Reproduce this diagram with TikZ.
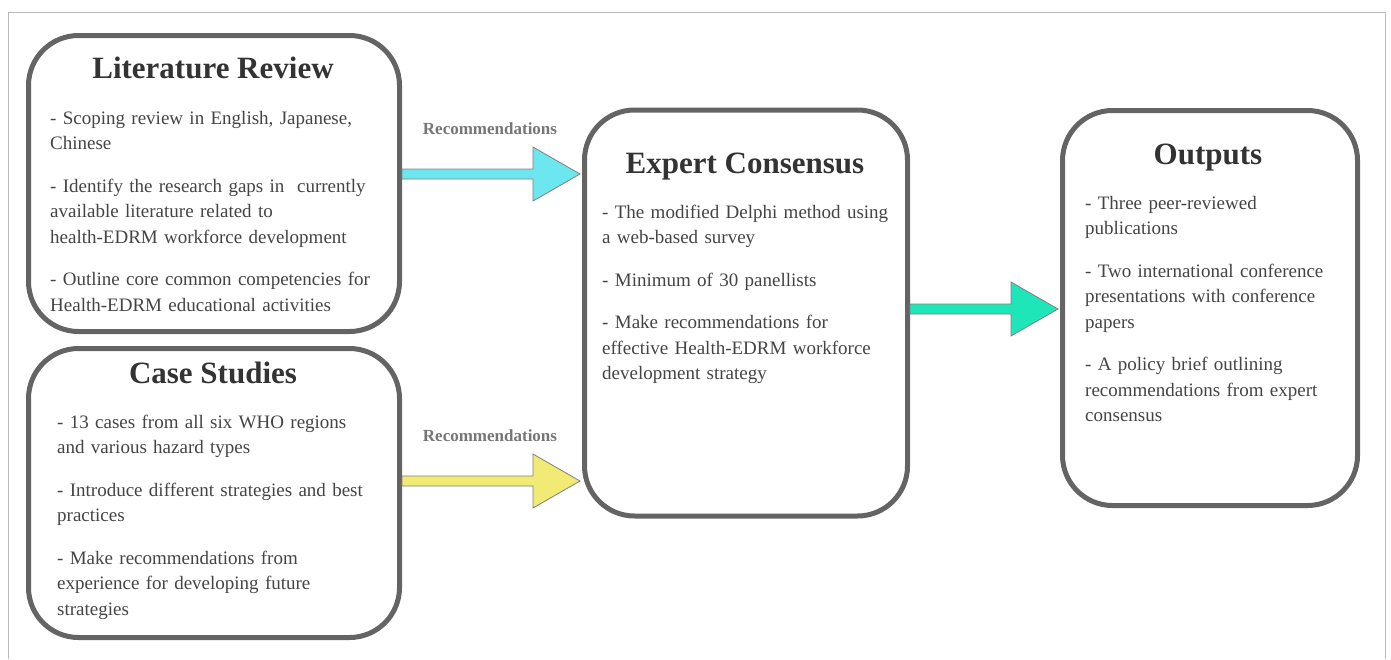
\documentclass[tikz,border=0pt]{standalone}
\usepackage{fontspec}
\setmainfont{Liberation Serif}
\usetikzlibrary{calc}

\definecolor{boxgray}{HTML}{646464}
\definecolor{textgray}{HTML}{444444}
\definecolor{titlegray}{HTML}{333333}
\definecolor{labelgray}{HTML}{767676}
\definecolor{framegray}{HTML}{BBBBBB}
\definecolor{cyanfill}{HTML}{6CE6EF}
\definecolor{yellowfill}{HTML}{F1EA75}
\definecolor{greenfill}{HTML}{1FE6B9}

\tikzset{
  stagebox/.style={draw=boxgray, line width=5pt, rounded corners=50pt, inner sep=0pt},
  stagetitle/.style={anchor=base, inner sep=0pt, text=titlegray,
    font=\fontsize{31}{36}\selectfont\bfseries},
  stagebody/.style={anchor=base west, inner sep=0pt, text width=#1, align=left,
    text=textgray, font=\fontsize{19}{25.5}\selectfont},
  arrowlabel/.style={anchor=base, inner sep=0pt, text=labelgray,
    font=\fontsize{17}{20}\selectfont\bfseries},
  blockarrow/.style={draw=gray, line width=0.8pt, fill=#1, line join=miter},
}

% fat arrow: style colour, start, tip
\newcommand\fatarrow[3]{%
  \draw[blockarrow=#1] let \p1=(#2), \p2=(#3) in
    (\x1,\y2+5pt) -- (\x2-47pt,\y2+5pt) -- (\x2-47pt,\y2+27pt) -- (\x2,\y2)
    -- (\x2-47pt,\y2-27pt) -- (\x2-47pt,\y2-5pt) -- (\x1,\y2-5pt) -- cycle;}

\begin{document}
\begin{tikzpicture}[x=1pt, y=-1pt]
  \useasboundingbox (0,0) rectangle (1391,659);
  % frame
  \draw[framegray, line width=1pt] (8,659) -- (8,12) -- (1385,12) -- (1385,659);

  % stages
  \node[stagebox, minimum width=371pt, minimum height=296pt] (lit) at (214,183.5) {};
  \node[stagebox, minimum width=371pt, minimum height=289pt] (case) at (214,493) {};
  \node[stagebox, minimum width=323pt, minimum height=406pt] (expert) at (746,313) {};
  \node[stagebox, minimum width=295pt, minimum height=395pt] (outputs) at (1210,308) {};

  \node[stagetitle] (littitle) at (213,78) {Literature Review};
  \node[stagebody=345pt] (litbody) at (50,124) {- Scoping review in English, Japanese,\\
    Chinese\\[17pt]
    - Identify the research gaps in~ currently\\
    available literature related to\\
    health-EDRM workforce development\\[17pt]
    - Outline core common competencies for\\
    Health-EDRM educational activities};

  \node[stagetitle] (casetitle) at (213,383) {Case Studies};
  \node[stagebody=340pt] (casebody) at (57,428) {- 13 cases from all six WHO regions\\
    and various hazard types\\[17pt]
    - Introduce different strategies and best\\
    practices\\[17pt]
    - Make recommendations from\\
    experience for developing future\\
    strategies};

  \node[stagetitle] (experttitle) at (745,173) {Expert Consensus};
  \node[stagebody=300pt] (expertbody) at (602,218) {- The modified Delphi method using\\
    a web-based survey\\[17pt]
    - Minimum of 30 panellists\\[17pt]
    - Make recommendations for\\
    effective Health-EDRM workforce\\
    development strategy};

  \node[stagetitle] (outtitle) at (1208,164) {Outputs};
  \node[stagebody=270pt] (outbody) at (1085,209) {- Three peer-reviewed\\
    publications\\[17pt]
    - Two international conference\\
    presentations with conference\\
    papers\\[17pt]
    - A policy brief outlining\\
    recommendations from expert\\
    consensus};

  % connectors
  \path (expert.west) ++(-2,-139) coordinate (tip1);
  \path (expert.west) ++(-2,168) coordinate (tip2);
  \path (outputs.west) ++(-2,1) coordinate (tip3);
  \fatarrow{cyanfill}{lit.east}{tip1}
  \fatarrow{yellowfill}{case.east}{tip2}
  \fatarrow{greenfill}{expert.east}{tip3}

  \node[arrowlabel] (rec1) at (490,134) {Recommendations};
  \node[arrowlabel] (rec2) at (490,441) {Recommendations};
\end{tikzpicture}
\end{document}
